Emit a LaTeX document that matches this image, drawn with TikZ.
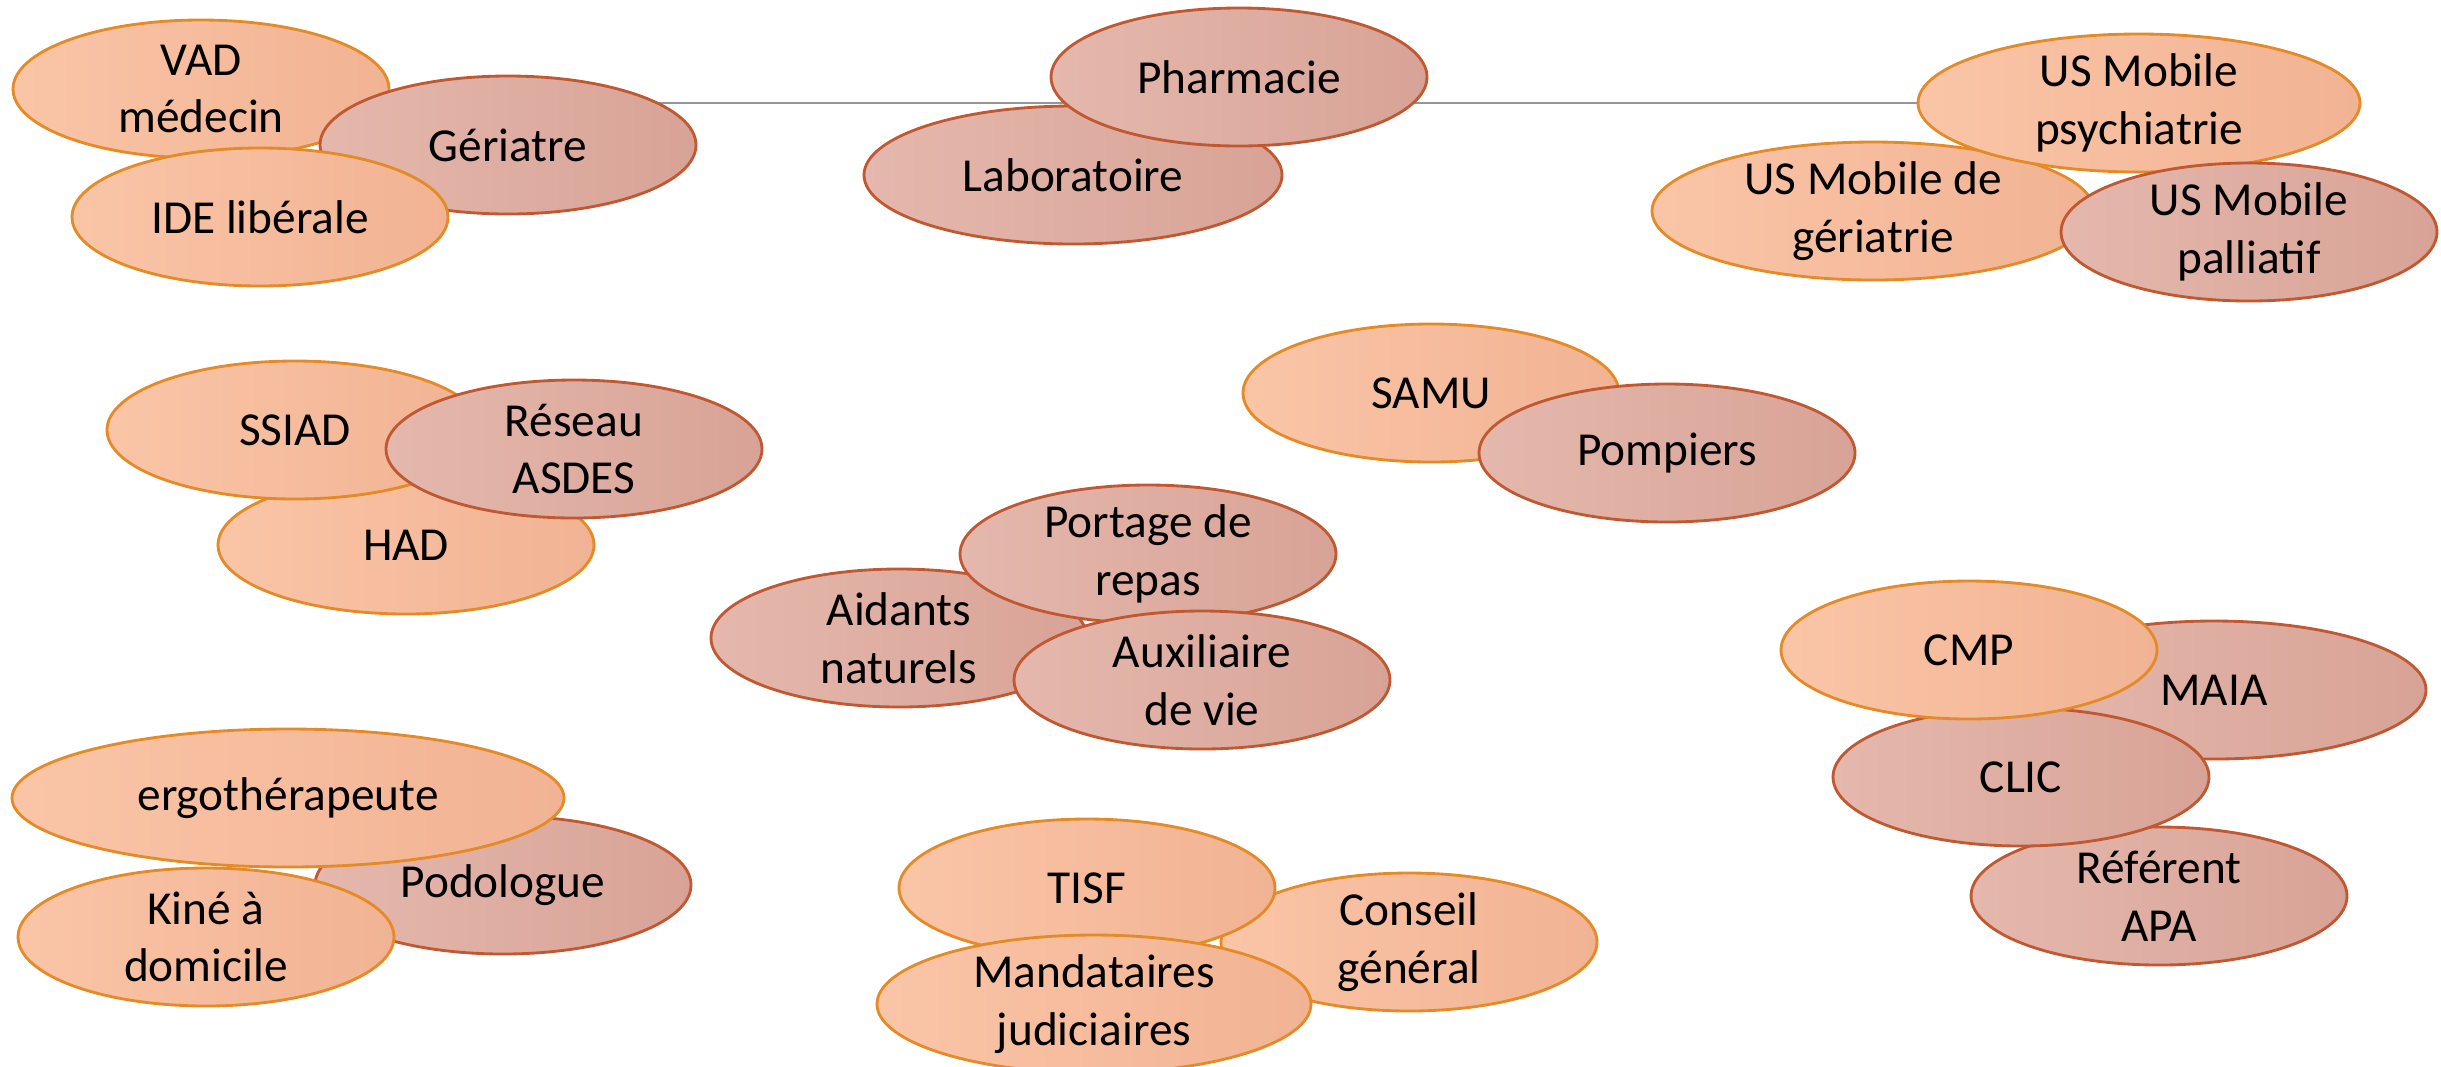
\documentclass[tikz,border=0pt]{standalone}
\usepackage{fontspec}
\setmainfont{Carlito}
\usetikzlibrary{shapes.geometric,backgrounds}

\definecolor{peachL}{RGB}{250,197,167}
\definecolor{peachR}{RGB}{241,179,147}
\definecolor{peachline}{RGB}{228,138,38}
\definecolor{roseL}{RGB}{229,184,173}
\definecolor{roseR}{RGB}{216,163,150}
\definecolor{roseline}{RGB}{192,88,50}
\definecolor{linkgray}{RGB}{150,150,150}

\tikzset{every picture/.style={line width=0.75pt}}
\tikzset{
  bubble/.style={ellipse, inner sep=0pt, minimum width=112.8pt, minimum height=41.4pt, line width=0.85pt},
  peach/.style={bubble, draw=peachline, left color=peachL, right color=peachR},
  rose/.style={bubble, draw=roseline, left color=roseL, right color=roseR},
  bubtext/.style={align=center, inner sep=0pt, text=black, font=\fontsize{14.2pt}{17.3pt}\selectfont},
  linkline/.style={draw=linkgray, line width=0.6pt}
}

\begin{document}
\begin{tikzpicture}[x=0.3pt,y=0.3pt,yscale=-1,xscale=1]
\useasboundingbox (0,0) rectangle (2441,1066);

% Ellipses: top left
\node[peach, label={[bubtext]center:{VAD\\médecin}}] (vad) at (201,89) {};
\node[rose, label={[bubtext]center:Gériatre}] (geri) at (508,145) {};
\node[peach, label={[bubtext]center:IDE libérale}] (ide) at (260,217) {};
% Ellipses: top middle
\node[rose, minimum width=125.4pt, label={[bubtext]center:Laboratoire}] (labo) at (1073,175) {};
\node[rose, label={[bubtext]center:Pharmacie}] (pharma) at (1239,77) {};
% Ellipses: top right
\node[peach, minimum width=132.6pt, label={[bubtext]center:{US Mobile de\\gériatrie}}] (usger) at (1873,211) {};
\node[peach, minimum width=132.6pt, label={[bubtext]center:{US Mobile\\psychiatrie}}] (psych) at (2139,103) {};
\node[rose, label={[bubtext]center:{US Mobile\\palliatif}}] (pall) at (2249,232) {};
% Ellipses: urgences
\node[peach, label={[bubtext]center:SAMU}] (samu) at (1431,393) {};
\node[rose, label={[bubtext]center:Pompiers}] (pomp) at (1667,453) {};
% Ellipses: soins a domicile
\node[peach, label={[bubtext]center:HAD}] (had) at (406,545) {};
\node[peach, label={[bubtext]center:SSIAD}] (ssiad) at (295,430) {};
\node[rose, label={[bubtext]center:{Réseau\\ASDES}}] (reseau) at (574,449) {};
% Ellipses: centre
\node[rose, label={[bubtext]center:{Aidants\\naturels}}] (aid) at (899,638) {};
\node[rose, label={[bubtext]center:{Portage de\\repas}}] (portage) at (1148,554) {};
\node[rose, label={[bubtext]center:{Auxiliaire\\de vie}}] (auxi) at (1202,680) {};
% Ellipses: coordination
\node[rose, minimum width=127.2pt, label={[bubtext]center:MAIA}] (maia) at (2214,690) {};
\node[rose, label={[bubtext]center:{Référent\\APA}}] (ref) at (2159,896) {};
\node[rose, label={[bubtext]center:CLIC}] (clic) at (2021,777) {};
\node[peach, label={[bubtext]center:CMP}] (cmp) at (1969,650) {};
% Ellipses: paramedical
\node[rose, label={[bubtext]center:Podologue}] (podo) at (503,885) {};
\node[peach, minimum width=165.6pt, label={[bubtext]center:ergothérapeute}] (ergo) at (288,798) {};
\node[peach, label={[bubtext]center:{Kiné à\\domicile}}] (kine) at (206,937) {};
% Ellipses: social
\node[peach, label={[bubtext]center:{Conseil\\général}}] (conseil) at (1409,942) {};
\node[peach, label={[bubtext]center:TISF}] (tisf) at (1087,888) {};
\node[peach, minimum width=130.2pt, label={[bubtext]center:{Mandataires\\judiciaires}}] (mand) at (1094,1004) {};

% Straight line behind the top row
\begin{scope}[on background layer]
\draw[linkline] (psych.west) -- (psych.west -| geri.center);
\end{scope}

\end{tikzpicture}
\end{document}
